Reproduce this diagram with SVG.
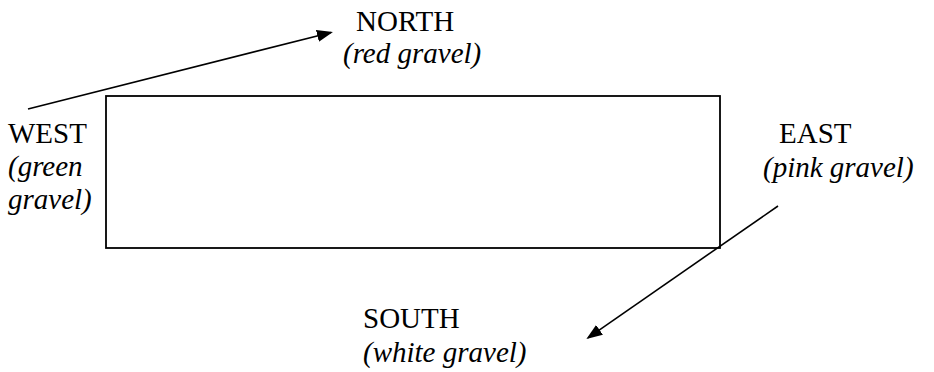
<svg xmlns="http://www.w3.org/2000/svg" width="934" height="372" viewBox="0 0 934 372">
<style>
.lbl{font-size:29px;fill:#000}
.it{font-style:italic}
.edge{stroke:#000;stroke-width:1.6;fill:none}
</style>
<defs>
<marker id="ah" markerUnits="userSpaceOnUse" markerWidth="18" markerHeight="14" refX="14" refY="6" orient="auto">
<path d="M0,0 L16,6 L0,12 z" fill="#000"/>
</marker>
</defs>
<rect width="934" height="372" fill="#fff"/>
<g id="field">
<rect x="106" y="96" width="614" height="152" fill="none" stroke="#000" stroke-width="1.8"/>
</g>
<g font-family="Liberation Serif, DejaVu Serif, serif">
<g id="north">
<text class="lbl" x="356" y="31">NORTH</text>
<text class="lbl it" x="343" y="63">(red gravel)</text>
</g>
<g id="west">
<text class="lbl" x="8" y="143">WEST</text>
<text class="lbl it" x="8" y="176">(green</text>
<text class="lbl it" x="8" y="209">gravel)</text>
</g>
<g id="east">
<text class="lbl" x="779" y="143">EAST</text>
<text class="lbl it" x="763" y="177">(pink gravel)</text>
</g>
<g id="south">
<text class="lbl" x="363" y="328">SOUTH</text>
<text class="lbl it" x="363" y="362">(white gravel)</text>
</g>
</g>
<g id="connectors">
<line class="edge" x1="28" y1="109" x2="331" y2="32.5" marker-end="url(#ah)"/>
<line class="edge" x1="778" y1="206" x2="588" y2="337.8" marker-end="url(#ah)"/>
</g>
</svg>
